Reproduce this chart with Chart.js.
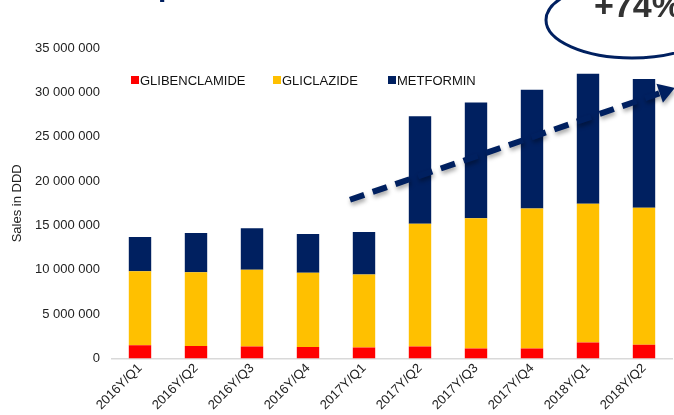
<!DOCTYPE html>
<html>
<head>
<meta charset="utf-8">
<script src="https://cdn.jsdelivr.net/npm/chart.js@4.4.1/dist/chart.umd.min.js"></script>
<style>
  html, body { margin: 0; padding: 0; background: #fff; }
  #wrap { width: 674px; height: 415px; position: relative; }
</style>
</head>
<body>
<div id="wrap"><canvas id="salesChart" width="674" height="415"></canvas></div>
<script>
// quarters on the x axis
const quarters = ['2016Y/Q1', '2016Y/Q2', '2016Y/Q3', '2016Y/Q4', '2017Y/Q1',
                  '2017Y/Q2', '2017Y/Q3', '2017Y/Q4', '2018Y/Q1', '2018Y/Q2'];

// sales in DDD, millions, stacked segments
const glibenclamide = [1.50, 1.43, 1.36, 1.30, 1.25, 1.36, 1.13, 1.13, 1.81, 1.55];
const gliclazide    = [8.35, 8.31, 8.64, 8.36, 8.22, 13.84, 14.69, 15.77, 15.63, 15.45];
const metformin     = [3.85, 4.42, 4.70, 4.38, 4.80, 12.10, 13.05, 13.40, 14.66, 14.50];

const yTicks = [0, 5000000, 10000000, 15000000, 20000000, 25000000, 30000000, 35000000];
const growthLabel = '+74%';

const NAVY = '#002060';
const FONT = '"Liberation Sans", Arial, sans-serif';
const toUnits = arr => arr.map(v => v * 1000000);

function formatTick(v) {
  return String(Math.round(v)).replace(/\B(?=(\d{3})+(?!\d))/g, ' ');
}

// legend inside the plot + trend arrow + the cropped call-out
const decorPlugin = {
  id: 'decor',
  afterDatasetsDraw(chart) {
    const ctx = chart.ctx;
    const x = chart.scales.x, y = chart.scales.y;

    // dashed trend arrow
    const x0 = x.getPixelForValue(3.75), y0 = y.getPixelForValue(17900000);
    const x1 = x.getPixelForValue(9.28), y1 = y.getPixelForValue(29900000);
    const ang = Math.atan2(y1 - y0, x1 - x0);
    ctx.save();
    ctx.shadowColor = 'rgba(0,0,0,0.35)';
    ctx.shadowBlur = 4;
    ctx.shadowOffsetX = 1;
    ctx.shadowOffsetY = 3;
    ctx.strokeStyle = NAVY;
    ctx.lineWidth = 6;
    ctx.setLineDash([15, 9]);
    ctx.beginPath();
    ctx.moveTo(x0, y0);
    ctx.lineTo(x1, y1);
    ctx.stroke();
    ctx.setLineDash([]);
    const tipX = x1 + Math.cos(ang) * 16, tipY = y1 + Math.sin(ang) * 16;
    ctx.fillStyle = NAVY;
    ctx.beginPath();
    ctx.moveTo(tipX, tipY);
    ctx.lineTo(x1 + Math.cos(ang + Math.PI / 2) * 10, y1 + Math.sin(ang + Math.PI / 2) * 10);
    ctx.lineTo(x1 + Math.cos(ang - Math.PI / 2) * 10, y1 + Math.sin(ang - Math.PI / 2) * 10);
    ctx.closePath();
    ctx.fill();
    ctx.restore();

    // legend
    ctx.save();
    ctx.font = '13px ' + FONT;
    ctx.textBaseline = 'middle';
    const legendX = [131, 273, 388];
    const ly = 80;
    chart.data.datasets.forEach((ds, i) => {
      ctx.fillStyle = ds.backgroundColor;
      ctx.fillRect(legendX[i], ly - 4, 8, 8);
      ctx.fillStyle = '#111';
      ctx.fillText(ds.label, legendX[i] + 9, ly + 1);
    });
    ctx.restore();

    // call-out ellipse and growth text (cropped at the top edge)
    ctx.save();
    ctx.strokeStyle = NAVY;
    ctx.lineWidth = 3;
    ctx.beginPath();
    ctx.ellipse(632, 20, 86, 38, 0, 0, Math.PI * 2);
    ctx.stroke();
    ctx.fillStyle = '#333';
    ctx.font = 'bold 34px ' + FONT;
    ctx.textBaseline = 'alphabetic';
    ctx.fillText(growthLabel, 594, 17);
    // descender of the slide title above
    ctx.fillStyle = NAVY;
    ctx.font = 'bold 30px ' + FONT;
    ctx.fillText('p', 158, -4);
    ctx.restore();
  }
};

new Chart(document.getElementById('salesChart'), {
  type: 'bar',
  data: {
    labels: quarters,
    datasets: [
      { label: 'GLIBENCLAMIDE', data: toUnits(glibenclamide), backgroundColor: '#ff0000' },
      { label: 'GLICLAZIDE', data: toUnits(gliclazide), backgroundColor: '#ffc000' },
      { label: 'METFORMIN', data: toUnits(metformin), backgroundColor: NAVY }
    ]
  },
  options: {
    responsive: false,
    animation: false,
    layout: { padding: { top: 48, right: 2, left: 0, bottom: 0 } },
    datasets: { bar: { categoryPercentage: 1, barPercentage: 0.4 } },
    plugins: { legend: { display: false }, tooltip: { enabled: false } },
    scales: {
      x: {
        stacked: true,
        grid: { display: false, drawTicks: false },
        border: { display: true, color: '#d9d9d9', width: 1.5 },
        ticks: {
          color: '#222',
          font: { family: FONT, size: 13 },
          minRotation: 45,
          maxRotation: 45,
          padding: 2
        }
      },
      y: {
        stacked: true,
        min: 0,
        max: 35000000,
        afterBuildTicks(axis) { axis.ticks = yTicks.map(v => ({ value: v })); },
        afterFit(axis) { axis.width = 112; },
        grid: { display: false, drawTicks: false },
        border: { display: false },
        title: {
          display: true,
          text: 'Sales in DDD',
          color: '#222',
          font: { family: FONT, size: 13 },
          padding: { top: 10, bottom: 0 }
        },
        ticks: {
          color: '#222',
          font: { family: FONT, size: 13 },
          padding: 12,
          callback: v => formatTick(v)
        }
      }
    }
  },
  plugins: [decorPlugin]
});
</script>
</body>
</html>
